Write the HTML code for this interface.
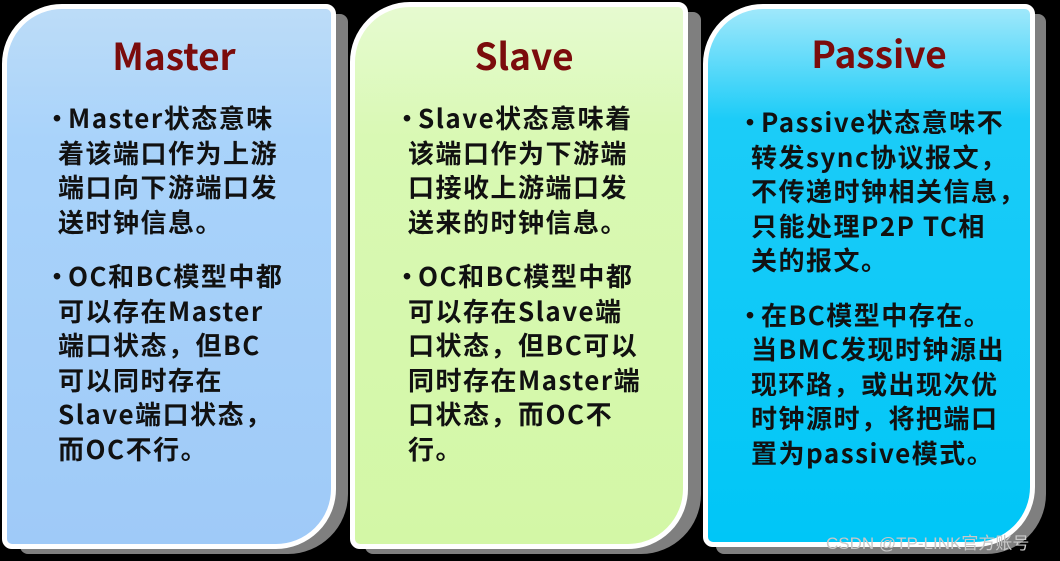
<!DOCTYPE html>
<html><head><meta charset="utf-8"><style>
html,body{margin:0;padding:0;background:#000;width:1060px;height:561px;overflow:hidden;position:relative;font-family:"Liberation Sans","Noto Sans CJK SC",sans-serif}
.sh{position:absolute;background:#7f7f7f;border-radius:60px 8px 60px 8px}
.card{position:absolute;border:5px solid #fff;border-radius:60px 10px 60px 10px;box-sizing:border-box;overflow:hidden}
.t{position:absolute;left:0;right:0;text-align:center;color:#7b0c0c;font-weight:bold;font-size:37px;font-family:"Noto Sans CJK SC",sans-serif}
.b{position:absolute;font-weight:bold;font-size:26px;line-height:34.5px;letter-spacing:1.5px;color:#111;font-family:"Noto Sans CJK SC",sans-serif;white-space:nowrap}
.b p{margin:0 0 20px 0;text-indent:-14px}
.d{letter-spacing:0;margin-right:-2px}
.wm{position:absolute;left:826px;top:529px;color:#c8c8c8;font-size:17px;font-family:"Liberation Sans","Noto Sans CJK SC",sans-serif}
</style></head><body>
<div class="sh" style="left:20px;top:14px;width:328px;height:540px"></div>
<div class="sh" style="left:365px;top:12px;width:336px;height:542px"></div>
<div class="sh" style="left:716px;top:14px;width:330px;height:540px"></div>

<div class="card" style="left:2px;top:4px;width:334px;height:545px;background:linear-gradient(#bcdcf8 0,#a9d3fa 130px,#9fcaf8 100%)">
<div class="t" style="top:18px;padding-left:10px">Master</div>
<div class="b" style="left:51px;top:92px">
<p><span class="d">·</span>Master状态意味<br>着该端口作为上游<br>端口向下游端口发<br>送时钟信息。</p>
<p><span class="d">·</span>OC和BC模型中都<br>可以存在Master<br>端口状态，但BC<br>可以同时存在<br>Slave端口状态，<br>而OC不行。</p>
</div></div>

<div class="card" style="left:350px;top:2px;width:338px;height:547px;background:linear-gradient(#e6fad0 0,#d9f9b4 130px,#d3f7a6 100%)">
<div class="t" style="top:20px;padding-left:10px">Slave</div>
<div class="b" style="left:53px;top:94px">
<p><span class="d">·</span>Slave状态意味着<br>该端口作为下游端<br>口接收上游端口发<br>送来的时钟信息。</p>
<p><span class="d">·</span>OC和BC模型中都<br>可以存在Slave端<br>口状态，但BC可以<br>同时存在Master端<br>口状态，而OC不<br>行。</p>
</div></div>

<div class="card" style="left:703px;top:4px;width:332px;height:543px;background:linear-gradient(#9fe8fb 0,#1cccf8 110px,#00c6f7 100%)">
<div class="t" style="top:16px;padding-left:20px">Passive</div>
<div class="b" style="left:43px;top:96px">
<p><span class="d">·</span>Passive状态意味不<br>转发sync协议报文，<br>不传递时钟相关信息，<br>只能处理P2P TC相<br>关的报文。</p>
<p><span class="d">·</span>在BC模型中存在。<br>当BMC发现时钟源出<br>现环路，或出现次优<br>时钟源时，将把端口<br>置为passive模式。</p>
</div></div>
<div class="wm">CSDN @TP-LINK官方账号</div>
</body></html>
